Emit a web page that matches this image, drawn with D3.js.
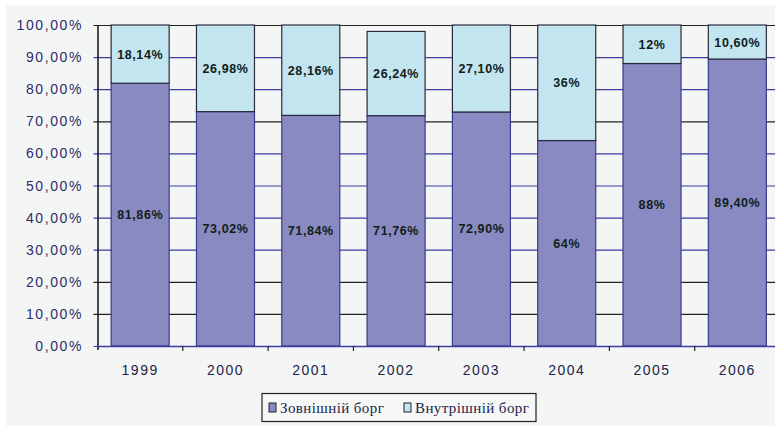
<!DOCTYPE html>
<html>
<head>
<meta charset="utf-8">
<script src="https://cdn.jsdelivr.net/npm/d3@7"></script>
<style>
  html, body { margin: 0; padding: 0; background: #ffffff; }
  svg { display: block; }
</style>
</head>
<body>
<script>
const years = ['1999', '2000', '2001', '2002', '2003', '2004', '2005', '2006'];
const external = [81.86, 73.02, 71.84, 71.76, 72.90, 64, 88, 89.40];
const internal = [18.14, 26.98, 28.16, 26.24, 27.10, 36, 12, 10.60];
const externalLabels = ['81,86%', '73,02%', '71,84%', '71,76%', '72,90%', '64%', '88%', '89,40%'];
const internalLabels = ['18,14%', '26,98%', '28,16%', '26,24%', '27,10%', '36%', '12%', '10,60%'];
const seriesNames = ['Зовнішній борг', 'Внутрішній борг'];
const yTicks = [0, 10, 20, 30, 40, 50, 60, 70, 80, 90, 100];

const width = 775;
const height = 426;
const margin = {left: 97.5, right: -5, top: 25, bottom: 80};
const colors = ['#8a8ac2', '#c3e5ef'];
const darkGrid = [100, 70, 20, 10];

const svg = d3.select('body').append('svg')
  .attr('width', width)
  .attr('height', height);

svg.append('rect')
  .attr('x', 6).attr('y', 5)
  .attr('width', width - 6).attr('height', height - 5)
  .attr('fill', '#f4f6f6');

const x = d3.scaleBand()
  .domain(years)
  .range([margin.left, width - margin.right])
  .paddingInner(0.32)
  .paddingOuter(0.16);

const y = d3.scaleLinear()
  .domain([0, 100])
  .range([height - margin.bottom, margin.top]);

const fmt = (d) => d3.format('.2f')(d).replace('.', ',') + '%';

// grid
svg.append('g').selectAll('line').data(yTicks).enter().append('line')
  .attr('x1', margin.left - 4)
  .attr('x2', width - margin.right)
  .attr('y1', (d) => y(d) + 0.5)
  .attr('y2', (d) => y(d) + 0.5)
  .attr('stroke', (d) => darkGrid.includes(d) ? '#222' : '#3c3ca0')
  .attr('stroke-width', 1.2);

// y labels
svg.append('g').selectAll('text').data(yTicks).enter().append('text')
  .attr('x', 83)
  .attr('y', (d) => y(d))
  .attr('dy', '0.36em')
  .attr('text-anchor', 'end')
  .attr('font-family', 'Liberation Sans, Arial, sans-serif')
  .attr('font-size', 14)
  .attr('letter-spacing', 1.6)
  .attr('fill', '#2c2c6a')
  .text(fmt);

// bars
const bars = svg.append('g');
years.forEach((yr, i) => {
  bars.append('rect')
    .attr('x', x(yr))
    .attr('y', y(external[i]))
    .attr('width', x.bandwidth())
    .attr('height', y(0) - y(external[i]))
    .attr('fill', colors[0])
    .attr('stroke', '#3a3a8a')
    .attr('stroke-width', 1.2);
  bars.append('rect')
    .attr('x', x(yr))
    .attr('y', y(external[i] + internal[i]))
    .attr('width', x.bandwidth())
    .attr('height', y(external[i]) - y(external[i] + internal[i]))
    .attr('fill', colors[1])
    .attr('stroke', '#2a2a3a')
    .attr('stroke-width', 1.2);
});

// value labels
const labelStyle = (sel) => sel
  .attr('text-anchor', 'middle')
  .attr('dy', '0.36em')
  .attr('font-family', 'Liberation Sans, Arial, sans-serif')
  .attr('font-size', 12.5)
  .attr('font-weight', 'bold')
  .attr('letter-spacing', 0.6)
  .attr('fill', '#10201a');

svg.append('g').selectAll('text').data(years).enter().append('text')
  .attr('x', (d) => x(d) + x.bandwidth() / 2)
  .attr('y', (d, i) => y(external[i] / 2))
  .text((d, i) => externalLabels[i])
  .call(labelStyle);

svg.append('g').selectAll('text').data(years).enter().append('text')
  .attr('x', (d) => x(d) + x.bandwidth() / 2)
  .attr('y', (d, i) => y(external[i] + internal[i] / 2))
  .text((d, i) => internalLabels[i])
  .call(labelStyle);

// axes
svg.append('line')
  .attr('x1', margin.left + 0.5).attr('x2', margin.left + 0.5)
  .attr('y1', y(100)).attr('y2', y(0) + 4)
  .attr('stroke', '#111').attr('stroke-width', 1.5);

svg.append('line')
  .attr('x1', margin.left).attr('x2', width - margin.right)
  .attr('y1', y(0) + 0.5).attr('y2', y(0) + 0.5)
  .attr('stroke', '#3c3ca0').attr('stroke-width', 1.5);

const step = x.step();
svg.append('g').selectAll('line').data(d3.range(1, years.length)).enter().append('line')
  .attr('x1', (d) => margin.left + d * step)
  .attr('x2', (d) => margin.left + d * step)
  .attr('y1', y(0))
  .attr('y2', y(0) + 5)
  .attr('stroke', '#222')
  .attr('stroke-width', 1.2);

svg.append('g').selectAll('text').data(years).enter().append('text')
  .attr('x', (d) => x(d) + x.bandwidth() / 2)
  .attr('y', 370)
  .attr('dy', '0.36em')
  .attr('text-anchor', 'middle')
  .attr('font-family', 'Liberation Sans, Arial, sans-serif')
  .attr('font-size', 14)
  .attr('letter-spacing', 1.5)
  .attr('fill', '#22224a')
  .text((d) => d);

// legend
const legend = svg.append('g');
legend.append('rect')
  .attr('x', 262).attr('y', 393.5)
  .attr('width', 274).attr('height', 28)
  .attr('fill', '#f6f7f7')
  .attr('stroke', '#222').attr('stroke-width', 1.2);

const legendX = [269, 404];
seriesNames.forEach((name, i) => {
  legend.append('rect')
    .attr('x', legendX[i]).attr('y', 403)
    .attr('width', 7).attr('height', 9)
    .attr('fill', colors[i])
    .attr('stroke', '#222').attr('stroke-width', 1);
  legend.append('text')
    .attr('x', legendX[i] + 11).attr('y', 408)
    .attr('dy', '0.36em')
    .attr('font-family', "'Liberation Serif', 'Times New Roman', serif")
    .attr('font-size', 15)
    .attr('letter-spacing', 0.4)
    .attr('fill', '#22224a')
    .text(name);
});
</script>
</body>
</html>
